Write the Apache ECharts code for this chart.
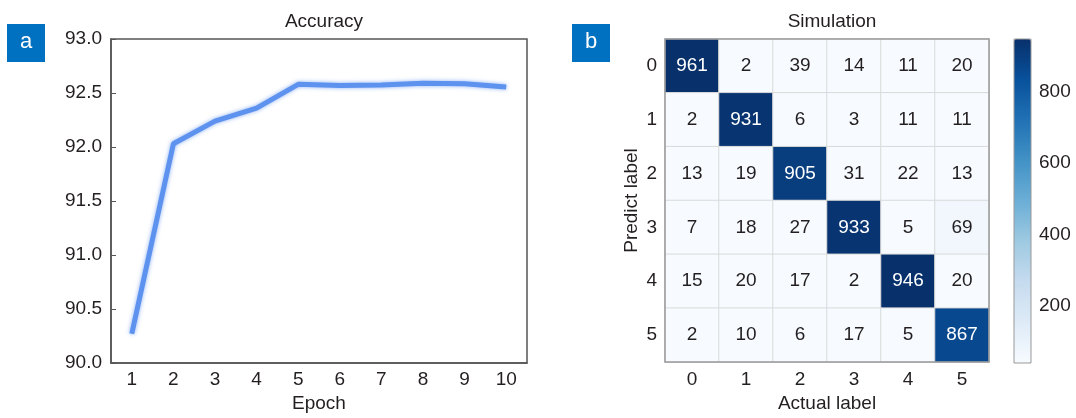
<!DOCTYPE html>
<html>
<head>
<meta charset="utf-8">
<script src="https://cdn.jsdelivr.net/npm/echarts@6/dist/echarts.min.js"></script>
<style>
  html, body { margin: 0; padding: 0; background: #fff; }
  #chart { width: 1076px; height: 418px; }
</style>
</head>
<body>
<div id="chart"></div>
<script>
// accuracy per epoch (panel a)
const epochs = ['1', '2', '3', '4', '5', '6', '7', '8', '9', '10'];
const accuracy = [90.27, 92.03, 92.24, 92.36, 92.58, 92.57, 92.575, 92.59, 92.585, 92.555];

// confusion matrix (panel b), rows = predict label, cols = actual label
const labels = ['0', '1', '2', '3', '4', '5'];
const matrix = [
    [961, 2, 39, 14, 11, 20],
    [2, 931, 6, 3, 11, 11],
    [13, 19, 905, 31, 22, 13],
    [7, 18, 27, 933, 5, 69],
    [15, 20, 17, 2, 946, 20],
    [2, 10, 6, 17, 5, 867]
];
const cbTicks = [200, 400, 600, 800];
const cbMin = 40;
const cbMax = 948;

const FONT = 'Liberation Sans, Arial, sans-serif';
const TXT = '#231f20';
const FS = 19;

const heatData = [];
matrix.forEach((row, r) => {
    row.forEach((v, c) => {
        heatData.push({
            value: [c, r, v],
            label: { color: v > 500 ? '#fff' : TXT }
        });
    });
});

const chart = echarts.init(document.getElementById('chart'));

const option = {
    animation: false,
    textStyle: { fontFamily: FONT, color: TXT },
    title: [
        { text: 'Accuracy', left: 319, top: 7, textAlign: 'center',
          textStyle: { fontFamily: FONT, fontSize: FS, fontWeight: 'normal', color: TXT } },
        { text: 'Simulation', left: 827, top: 7, textAlign: 'center',
          textStyle: { fontFamily: FONT, fontSize: FS, fontWeight: 'normal', color: TXT } }
    ],
    graphic: [
        { type: 'rect', left: 7, top: 24, shape: { width: 38, height: 38 }, style: { fill: '#0070c0' } },
        { type: 'text', x: 26, y: 42, style: { text: 'a', fill: '#fff', font: '22px ' + FONT, align: 'center', verticalAlign: 'middle' } },
        { type: 'rect', left: 572, top: 24, shape: { width: 38, height: 38 }, style: { fill: '#0070c0' } },
        { type: 'text', x: 591, y: 42, style: { text: 'b', fill: '#fff', font: '22px ' + FONT, align: 'center', verticalAlign: 'middle' } }
    ],
    grid: [
        { left: 111, top: 39, width: 416, height: 325, show: true, borderColor: '#555', borderWidth: 1.5 },
        { left: 665, top: 39, width: 324, height: 324, show: true, borderColor: '#999', borderWidth: 1.5, z: 5 },
        { left: 1014, top: 39, width: 17, height: 324, show: true, borderColor: '#999', borderWidth: 1, z: 10 }
    ],
    visualMap: {
        type: 'continuous',
        seriesIndex: 1,
        min: cbMin,
        max: cbMax,
        calculable: false,
        left: 1014,
        top: 39,
        padding: 0,
        itemWidth: 17,
        itemHeight: 324,
        inRange: {
            color: ['#f7fbff', '#deebf7', '#c6dbef', '#9ecae1', '#6baed6', '#4292c6', '#2171b5', '#08519c', '#08306b']
        }
    },
    xAxis: [
        {
            gridIndex: 0, type: 'category', data: epochs, boundaryGap: true,
            axisLine: { lineStyle: { color: '#555', width: 1.5 } },
            axisTick: { alignWithLabel: true, inside: true, length: 5, lineStyle: { color: '#555' } },
            axisLabel: { fontSize: FS, color: TXT, margin: 7, fontFamily: FONT },
            name: 'Epoch', nameLocation: 'middle', nameGap: 31,
            nameTextStyle: { fontSize: FS, color: TXT, fontFamily: FONT }
        },
        {
            gridIndex: 1, type: 'category', data: labels,
            axisLine: { show: false }, axisTick: { show: false },
            axisLabel: { fontSize: FS, color: TXT, margin: 8, fontFamily: FONT },
            name: 'Actual label', nameLocation: 'middle', nameGap: 32,
            nameTextStyle: { fontSize: FS, color: TXT, fontFamily: FONT }
        },
        { gridIndex: 2, type: 'value', show: false, min: 0, max: 1 }
    ],
    yAxis: [
        {
            gridIndex: 0, type: 'value', min: 90, max: 93, interval: 0.5,
            axisLine: { show: true, lineStyle: { color: '#555', width: 1.5 } },
            axisTick: { show: true, inside: true, length: 5, lineStyle: { color: '#555' } },
            axisLabel: { fontSize: FS, color: TXT, margin: 9, fontFamily: FONT,
                         formatter: v => v.toFixed(1) },
            splitLine: { show: false }
        },
        {
            gridIndex: 1, type: 'category', data: labels, inverse: true,
            axisLine: { show: false }, axisTick: { show: false },
            axisLabel: { fontSize: FS, color: TXT, margin: 8, fontFamily: FONT },
            name: 'Predict label', nameLocation: 'middle', nameGap: 24, nameRotate: 90,
            nameTextStyle: { fontSize: FS, color: TXT, fontFamily: FONT }
        },
        {
            gridIndex: 2, type: 'value', position: 'right', min: cbMin, max: cbMax,
            axisLine: { show: false },
            axisTick: { show: true, length: 3, customValues: cbTicks, lineStyle: { color: '#888' } },
            axisLabel: { fontSize: FS, color: TXT, margin: 8, fontFamily: FONT, customValues: cbTicks },
            splitLine: { show: false }
        }
    ],
    series: [
        {
            type: 'line', xAxisIndex: 0, yAxisIndex: 0, data: accuracy,
            symbol: 'none',
            lineStyle: { color: '#5e92ef', width: 5, shadowBlur: 4, shadowColor: 'rgba(94,146,239,0.7)' }
        },
        {
            type: 'heatmap', xAxisIndex: 1, yAxisIndex: 1, data: heatData,
            label: { show: true, fontSize: FS, fontFamily: FONT },
            itemStyle: { borderColor: '#dadada', borderWidth: 1 }
        }
    ]
};

chart.setOption(option);
window.addEventListener('resize', chart.resize);
</script>
</body>
</html>
